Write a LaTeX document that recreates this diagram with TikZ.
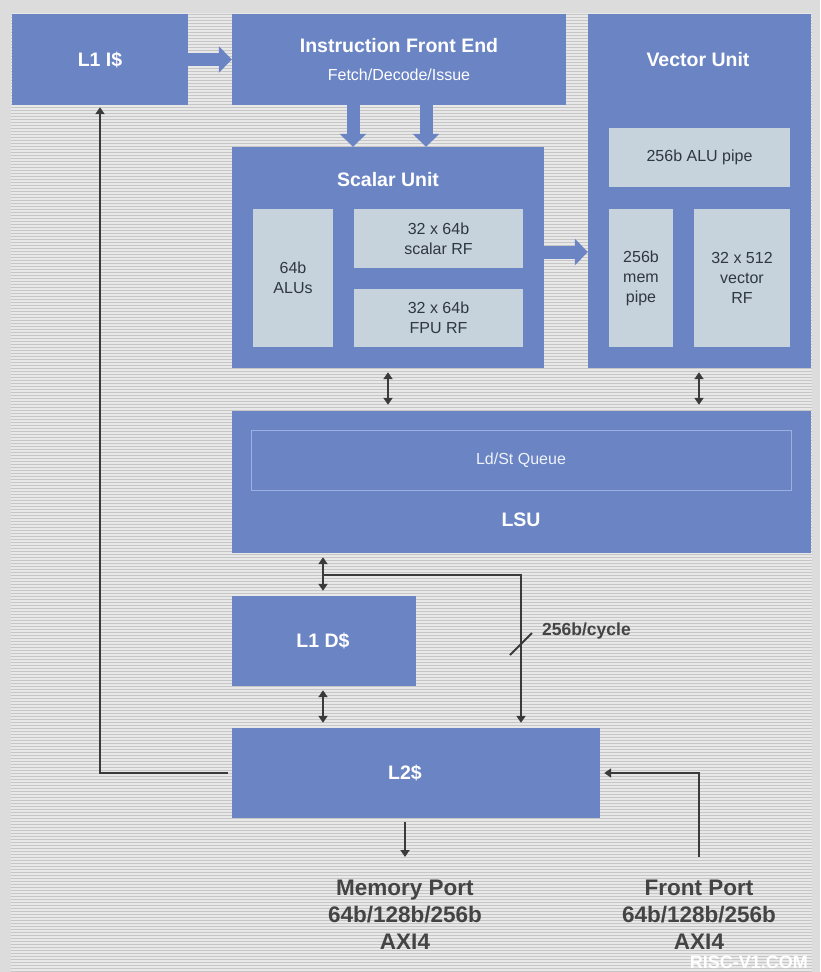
\documentclass[tikz,border=0pt]{standalone}
\usepackage{fontspec}
\setmainfont{Liberation Sans}
\usetikzlibrary{arrows.meta,calc}
\definecolor{boxblue}{HTML}{6A84C4}
\definecolor{innerfill}{HTML}{C6D2DC}
\definecolor{innertext}{HTML}{2F3742}
\definecolor{wirecol}{HTML}{3A3A3A}
\definecolor{outerbg}{HTML}{DCDCDC}
\definecolor{stripebg}{HTML}{E8E8E8}
\definecolor{stripecol}{HTML}{C6C6C6}
\definecolor{labeltext}{HTML}{444444}
\definecolor{queueline}{HTML}{9CB0E4}
\definecolor{queuetext}{HTML}{EEF2FA}
\newcommand{\rectnode}[7]{%
  \node[#6, minimum width={#4-#2}, minimum height={#5-#3}] (#1) at ({(#2+#4)/2},{(#3+#5)/2}) {#7};}
\begin{document}
\begin{tikzpicture}[x=1pt,y=-1pt,
  blk/.style={fill=boxblue, draw=none, inner sep=0pt},
  subbox/.style={fill=innerfill, draw=none, inner sep=0pt, text=innertext, align=center,
    font=\fontsize{16}{20}\selectfont},
  queuebox/.style={draw=queueline, line width=1pt, inner sep=0pt, text=queuetext,
    font=\fontsize{16}{20}\selectfont},
  titletext/.style={text=white, inner sep=0pt, font=\bfseries\fontsize{19.5}{23}\selectfont},
  subtitletext/.style={text=white, inner sep=0pt, font=\fontsize{16}{20}\selectfont},
  blockarrow/.style={draw=boxblue, line width=13pt, -{Triangle[width=26pt,length=13pt]}},
  wire/.style={draw=wirecol, line width=1.8pt},
  sarrow/.style={wire, -{Triangle[width=9pt,length=7pt]}},
  dblarrow/.style={wire, {Triangle[width=9pt,length=7pt]}-{Triangle[width=9pt,length=7pt]}},
  lbltext/.style={text=labeltext, inner sep=0pt, font=\bfseries\fontsize{17.5}{21}\selectfont},
  porttext/.style={text=labeltext, inner sep=0pt, align=center, font=\bfseries\fontsize{22.5}{27}\selectfont},
  wmtext/.style={text=white, inner sep=0pt, font=\bfseries\fontsize{18}{18}\selectfont}
]
\useasboundingbox (0,0) rectangle (820,972);
\fill[outerbg] (0,0) rectangle (820,972);
\fill[stripebg] (11,13) rectangle (812,972);
\foreach \yy in {14,17,...,971} \draw[stripecol, line width=1pt] (11,\yy) -- (812,\yy);

% main blocks
\rectnode{l1i}{12}{14}{188}{105}{blk}{}
\rectnode{ife}{232}{14}{566}{105}{blk}{}
\rectnode{vu}{588}{14}{811}{368}{blk}{}
\rectnode{su}{232}{147}{544}{368}{blk}{}
\rectnode{lsu}{232}{411}{811}{553}{blk}{}
\rectnode{l1d}{232}{596}{416}{686}{blk}{}
\rectnode{l2}{232}{728}{600}{818}{blk}{}

% inner boxes
\rectnode{alus}{253}{209}{333}{347}{subbox}{64b\\ALUs}
\rectnode{srf}{354}{209}{523}{268}{subbox}{32 x 64b\\scalar RF}
\rectnode{frf}{354}{289}{523}{347}{subbox}{32 x 64b\\FPU RF}
\rectnode{alup}{609}{128}{790}{187}{subbox}{256b ALU pipe}
\rectnode{memp}{609}{209}{673}{347}{subbox}{256b\\mem\\pipe}
\rectnode{vrf}{694}{209}{790}{347}{subbox}{32 x 512\\vector\\RF}
\rectnode{q}{251}{430}{791}{490}{queuebox}{Ld/St Queue}

% titles
\node[titletext] (l1it) at (100,60) {L1 I\$};
\node[titletext] (ifet) at (399,46) {Instruction Front End};
\node[subtitletext] (ifes) at (399,75) {Fetch/Decode/Issue};
\node[titletext] (vut) at (698,60) {Vector Unit};
\node[titletext] (sut) at (388,180) {Scalar Unit};
\node[titletext] (lsut) at (521,520) {LSU};
\node[titletext] (l1dt) at (323,641) {L1 D\$};
\node[titletext] (l2t) at (405,773) {L2\$};

% helper coordinates
\coordinate (xi1) at (353,0);
\coordinate (xi2) at (426,0);
\coordinate (yv) at (0,252);
\coordinate (xsa) at (388,0);
\coordinate (xva) at (699,0);
\coordinate (xd) at (323,0);
\coordinate (xb) at (521,0);
\coordinate (xf) at (100,0);
\coordinate (br) at (323,575);
\coordinate (sl) at (521,644);
\coordinate (mpin) at (405,857);
\coordinate (fpin) at (699,857);

% block arrows
\draw[blockarrow] (l1i.east) -- (ife.west);
\draw[blockarrow] (ife.south -| xi1) -- (su.north -| xi1);
\draw[blockarrow] (ife.south -| xi2) -- (su.north -| xi2);
\draw[blockarrow] (su.east |- yv) -- (vu.west |- yv);

% thin connectors
\draw[dblarrow, shorten <=4pt, shorten >=6pt] (su.south -| xsa) -- (lsu.north -| xsa);
\draw[dblarrow, shorten <=4pt, shorten >=6pt] (vu.south -| xva) -- (lsu.north -| xva);
\draw[dblarrow, shorten <=4pt, shorten >=5pt] (lsu.south -| xd) -- (l1d.north -| xd);
\draw[dblarrow, shorten <=4pt, shorten >=5pt] (l1d.south -| xd) -- (l2.north -| xd);
\draw[sarrow, shorten >=5pt] (br) -- (br -| xb) -- (l2.north -| xb);
\draw[wire] (sl) ++(-11,11) -- ++(22,-22);
\node[lbltext, anchor=west] (bw) at (542,631) {256b/cycle};

\draw[sarrow, shorten <=4pt] (l2.south -| mpin) -- (mpin);
\draw[sarrow, shorten >=4pt] (fpin) -- (fpin |- l2.east) -- (l2.east);
\draw[sarrow, shorten <=4pt, shorten >=2pt] (l2.west) -- (l2.west -| xf) -- (l1i.south -| xf);

% port labels
\node[porttext] (mp) at (405,915) {Memory Port\\64b/128b/256b\\AXI4};
\node[porttext] (fp) at (699,915) {Front Port\\64b/128b/256b\\AXI4};
\node[wmtext, anchor=east] (wm) at (808,962) {RISC-V1.COM};
\end{tikzpicture}
\end{document}
